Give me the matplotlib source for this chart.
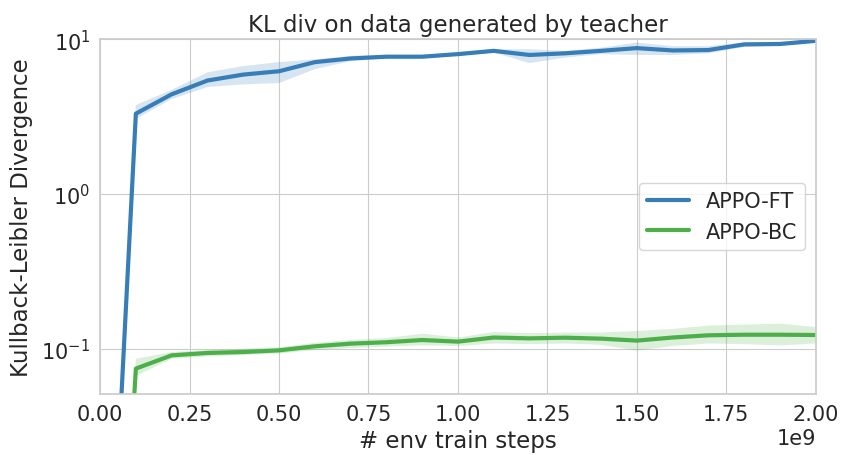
import numpy as np
import matplotlib
matplotlib.use("Agg")
import matplotlib.pyplot as plt
import seaborn as sns

sns.set_style("whitegrid")
plt.rcParams['font.family'] = ['DejaVu Sans']

# env train steps
steps = np.array([0.0, 0.1, 0.2, 0.3, 0.4, 0.5, 0.6, 0.7, 0.8, 0.9, 1.0,
                  1.1, 1.2, 1.3, 1.4, 1.5, 1.6, 1.7, 1.8, 1.9, 2.0]) * 1e9

# APPO-FT mean and band
ft_mean = [1e-4, 3.3, 4.4, 5.4, 5.9, 6.2, 7.1, 7.5, 7.7, 7.7, 8.0,
           8.4, 7.9, 8.1, 8.4, 8.75, 8.45, 8.5, 9.25, 9.3, 9.75]
ft_low = [1e-4, 3.05, 4.1, 4.9, 5.1, 5.2, 6.4, 7.2, 7.5, 7.5, 7.8,
          8.2, 7.0, 7.6, 8.0, 7.9, 7.9, 8.1, 8.9, 9.1, 9.5]
ft_high = [1e-4, 3.75, 4.7, 6.1, 6.7, 7.1, 7.4, 7.8, 7.9, 7.9, 8.2,
           8.6, 8.6, 8.4, 8.8, 9.5, 9.0, 9.0, 9.5, 9.6, 10.0]

# APPO-BC mean and band
bc_mean = [1e-5, 0.0743, 0.0905, 0.0938, 0.0951, 0.0975, 0.1035, 0.1077, 0.110, 0.1137, 0.111,
           0.118, 0.1165, 0.1177, 0.116, 0.1127, 0.118, 0.122, 0.123, 0.123, 0.1225]
bc_low = [1e-5, 0.0667, 0.086, 0.089, 0.091, 0.093, 0.098, 0.101, 0.103, 0.105, 0.104,
          0.108, 0.107, 0.108, 0.106, 0.097, 0.104, 0.108, 0.107, 0.105, 0.108]
bc_high = [1e-5, 0.086, 0.095, 0.098, 0.100, 0.102, 0.109, 0.114, 0.117, 0.125, 0.118,
           0.128, 0.126, 0.127, 0.127, 0.130, 0.134, 0.141, 0.143, 0.145, 0.138]

fig, ax = plt.subplots(figsize=(8.41, 4.56), dpi=100)

blue = "#377eb8"
green = "#4daf4a"

ax.fill_between(steps, ft_low, ft_high, color=blue, alpha=0.2, lw=0)
ax.plot(steps, ft_mean, color=blue, lw=3, label="APPO-FT")
ax.fill_between(steps, bc_low, bc_high, color=green, alpha=0.2, lw=0)
ax.plot(steps, bc_mean, color=green, lw=3, label="APPO-BC")

ax.set_yscale("log")
ax.set_ylim(0.051, 10)
ax.set_xlim(0, 2e9)
ax.minorticks_off()

ax.set_title("KL div on data generated by teacher", fontsize=16.5)
ax.set_xlabel("# env train steps", fontsize=16.5, labelpad=4)
ax.set_ylabel("Kullback-Leibler Divergence", fontsize=16.5, labelpad=6)
ax.tick_params(labelsize=15)
ax.xaxis.get_offset_text().set_fontsize(15)

for s in ax.spines.values():
    s.set_color("#cccccc")
    s.set_linewidth(1.25)

ax.legend(loc="center right", fontsize=15, bbox_to_anchor=(1.0, 0.50))

plt.subplots_adjust(left=0.119, right=0.970, top=0.912, bottom=0.134)
plt.savefig("out.png", dpi=100)
